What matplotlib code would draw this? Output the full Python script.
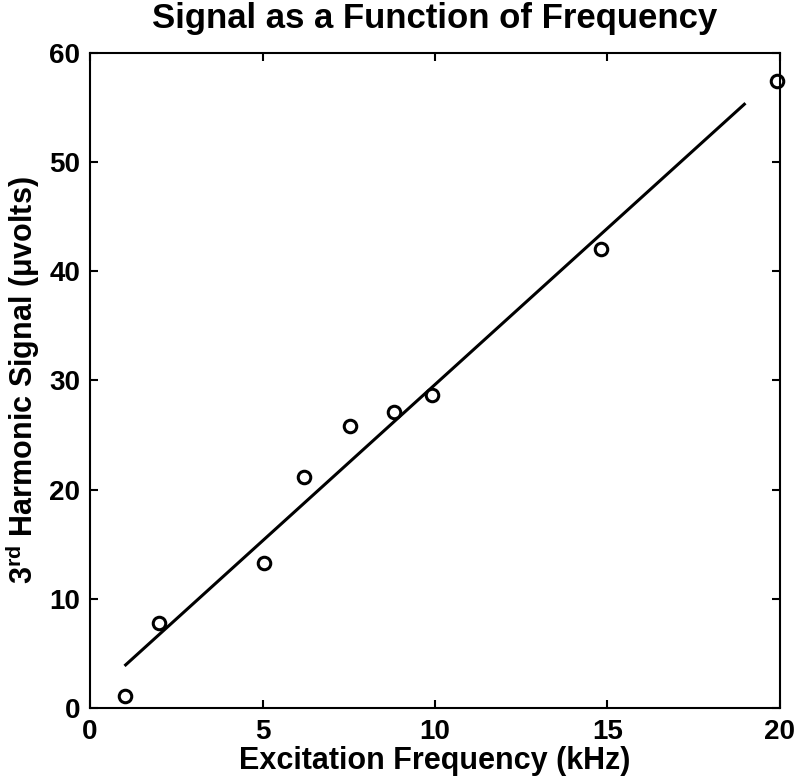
import matplotlib
matplotlib.use("Agg")
import numpy as np
from matplotlib import pyplot as plt

# measured points
freq_khz = [1.0, 2.0, 5.05, 6.2, 7.55, 8.8, 9.9, 14.8, 19.9]
signal_uv = [1.1, 7.8, 13.3, 21.2, 25.8, 27.1, 28.7, 42.0, 57.4]

# linear fit line end points
fit_x = [1.0, 19.0]
fit_y = [3.85, 55.4]

plt.rcParams['font.family'] = ['Liberation Sans', 'DejaVu Sans']
plt.rcParams['font.weight'] = 'bold'
plt.rcParams['mathtext.fontset'] = 'custom'
plt.rcParams['mathtext.rm'] = 'Liberation Sans:bold'
plt.rcParams['mathtext.it'] = 'Liberation Sans:bold'
plt.rcParams['mathtext.bf'] = 'Liberation Sans:bold'

fig = plt.figure(figsize=(7.98, 7.84), dpi=100)
ax = fig.add_axes([0.1128, 0.097, 0.8646, 0.8354])

ax.plot(fit_x, fit_y, color="black", lw=2.2, solid_capstyle="butt")
ax.plot(freq_khz, signal_uv, linestyle="none", marker="o", markersize=9,
        markerfacecolor="white", markeredgecolor="black", markeredgewidth=2.2,
        clip_on=False)

ax.set_xlim(0, 20)
ax.set_ylim(0, 60)
ax.set_xticks([0, 5, 10, 15, 20])
ax.set_yticks([0, 10, 20, 30, 40, 50, 60])
ax.tick_params(direction="in", length=6, width=1.5, top=True, right=True,
               labelsize=20)
ax.tick_params(axis="x", pad=8)
ax.tick_params(axis="y", pad=7)
for lab in ax.get_xticklabels() + ax.get_yticklabels():
    lab.set_fontweight("bold")
for sp in ax.spines.values():
    sp.set_linewidth(1.5)

ax.set_title("Signal as a Function of Frequency", fontsize=25, fontweight="bold", pad=18)
ax.set_xlabel("Excitation Frequency (kHz)", fontsize=22, fontweight="bold", labelpad=1)
ax.set_ylabel("3$^{\\mathrm{rd}}$ Harmonic Signal (\u03bcvolts)", fontsize=22,
              fontweight="bold", labelpad=5)

fig.savefig("out.png", dpi=100)
